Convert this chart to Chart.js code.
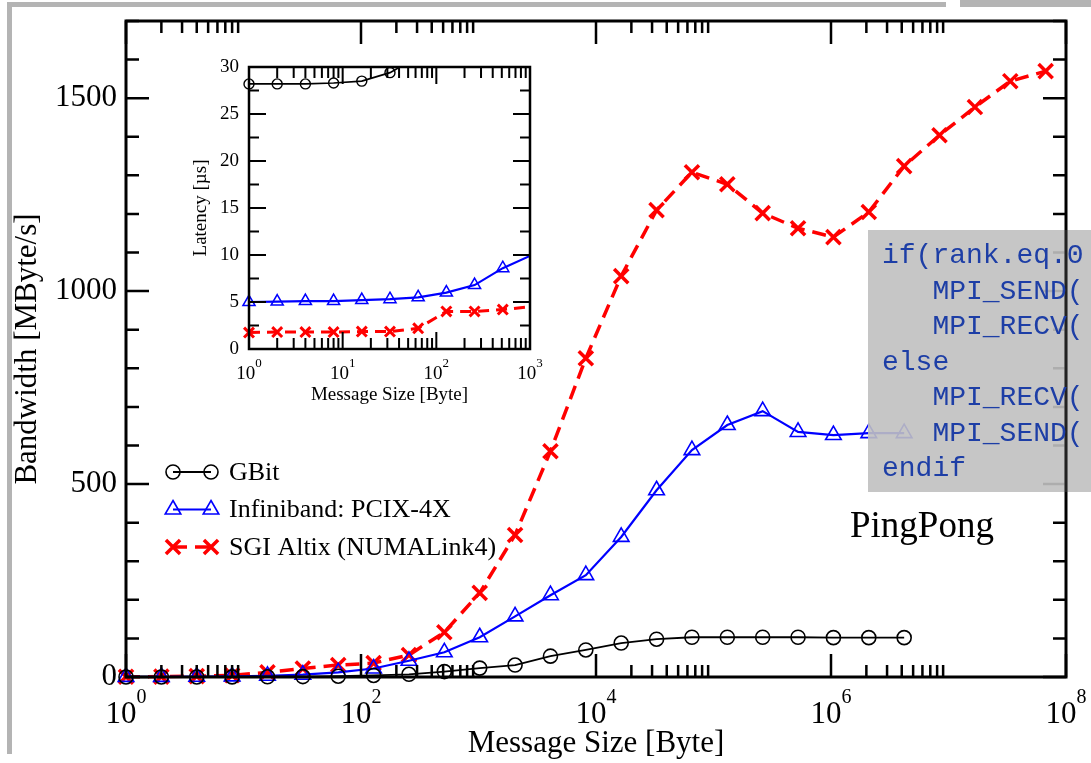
<!DOCTYPE html>
<html lang="en">
<head>
<meta charset="UTF-8">
<title>PingPong</title>
<style>
  body { margin: 0; background: #fff; }
  #wrap { position: relative; width: 1091px; height: 763px; overflow: hidden; }
  #main { position: absolute; left: 0; top: 0; }
  #inset { position: absolute; left: 180px; top: 50px; background: #fff; }
</style>
<script src="https://cdn.jsdelivr.net/npm/chart.js"></script>
</head>
<body>
<div id="wrap">
  <canvas id="main" width="1091" height="763"></canvas>
  <canvas id="inset" width="370" height="360"></canvas>
</div>
<script>
// message sizes [Byte]
const sizes = [1, 2, 4, 8, 16, 32, 64, 128, 256, 512, 1024, 2048, 4096, 8192, 16384, 32768,
  65536, 131072, 262144, 524288, 1048576, 2097152, 4194304, 8388608, 16777216, 33554432, 67108864];

// bandwidth [MByte/s]
const gbitBw = [0.04, 0.07, 0.14, 0.28, 0.6, 1.1, 2, 4, 7, 14, 23, 31, 54, 70, 88, 98,
  103, 103, 103, 103, 102, 102, 102];
const ibBw = [0.2, 0.4, 0.8, 1.6, 3.1, 6, 12, 22, 42, 64, 103, 157, 212, 264, 363, 484,
  588, 653, 689, 635, 627, 632, 632];
const sgiBw = [0.6, 1.1, 2.2, 4.4, 12, 22, 31, 36, 57, 116, 218, 368, 585, 826, 1039, 1210,
  1308, 1277, 1202, 1163, 1140, 1205, 1324, 1404, 1477, 1544, 1570];

// latency [us] (inset)
const latSizes = [1, 2, 4, 8, 16, 32, 64, 128, 256, 512, 1024];
const gbitLat = [28.2, 28.2, 28.2, 28.3, 28.5, 29.4, 31.1, 33];
const ibLat = [5.0, 5.05, 5.1, 5.1, 5.2, 5.3, 5.5, 6.0, 6.8, 8.6, 9.95];
const sgiLat = [1.75, 1.8, 1.8, 1.8, 1.85, 1.85, 2.2, 4.0, 4.0, 4.2, 4.5];

const seriesNames = ['GBit', 'Infiniband: PCIX-4X', 'SGI Altix (NUMALink4)'];
const bwExps = [0, 2, 4, 6, 8];      // labelled x ticks, main
const bwMinorDecades = [0, 2, 4, 6];
const latExps = [0, 1, 2, 3];        // labelled x ticks, inset
const latMinorDecades = [0, 1, 2];
const codeLines = ['if(rank.eq.0', '   MPI_SEND(', '   MPI_RECV(', 'else', '   MPI_RECV(', '   MPI_SEND(', 'endif'];

const SERIF = '"Liberation Serif", "Times New Roman", serif';
const MONO = '"Liberation Mono", "Courier New", monospace';
Chart.defaults.color = '#000';
Chart.defaults.font.family = SERIF;

function points(xs, ys) {
  return ys.map((v, i) => ({ x: xs[i], y: v }));
}

function logTicks(majorExps, minorDecades) {
  const list = [];
  for (const e of majorExps) list.push({ v: Math.pow(10, e), major: true });
  for (const e of minorDecades) {
    for (let m = 2; m <= 9; m++) list.push({ v: m * Math.pow(10, e), major: false });
  }
  return list;
}

// inward ticks on all sides, frame and 10^n labels
function frameAndTicks(chart, o) {
  const { ctx, chartArea: a, scales: { x, y } } = chart;
  ctx.save();
  ctx.strokeStyle = '#000';
  ctx.lineWidth = o.tickWidth;
  ctx.beginPath();
  for (const t of o.xTicks) {
    const px = x.getPixelForValue(t.v);
    const len = t.major ? o.major : o.minorX;
    ctx.moveTo(px, a.bottom); ctx.lineTo(px, a.bottom - len);
    ctx.moveTo(px, a.top); ctx.lineTo(px, a.top + len);
  }
  for (const t of y.ticks) {
    const py = y.getPixelForValue(t.value);
    const len = t.value % o.yMajorStep === 0 ? o.major : o.minorY;
    ctx.moveTo(a.left, py); ctx.lineTo(a.left + len, py);
    ctx.moveTo(a.right, py); ctx.lineTo(a.right - len, py);
  }
  ctx.stroke();
  ctx.lineWidth = o.frameWidth;
  ctx.strokeRect(a.left, a.top, a.width, a.height);

  ctx.fillStyle = '#000';
  ctx.textAlign = 'left';
  ctx.textBaseline = 'alphabetic';
  for (const e of o.labelExps) {
    const px = x.getPixelForValue(Math.pow(10, e));
    ctx.font = o.labelSize + 'px ' + SERIF;
    const w1 = ctx.measureText('10').width;
    ctx.font = o.supSize + 'px ' + SERIF;
    const w2 = ctx.measureText(String(e)).width;
    const x0 = px - (w1 + w2) / 2;
    ctx.font = o.labelSize + 'px ' + SERIF;
    ctx.fillText('10', x0, a.bottom + o.labelDrop);
    ctx.font = o.supSize + 'px ' + SERIF;
    ctx.fillText(String(e), x0 + w1, a.bottom + o.labelDrop - o.supRise);
  }
  ctx.restore();
}

function drawLegend(chart) {
  const { ctx, chartArea: a } = chart;
  const x1 = a.left + 47, x2 = a.left + 85, tx = a.left + 103;
  chart.data.datasets.forEach((ds, i) => {
    const yy = a.top + 451 + i * 37.5;
    ctx.save();
    ctx.strokeStyle = ds.borderColor;
    ctx.lineWidth = ds.borderWidth;
    ctx.setLineDash(ds.borderDash || []);
    ctx.beginPath();
    ctx.moveTo(x1, yy); ctx.lineTo(x2, yy);
    ctx.stroke();
    ctx.setLineDash([]);
    ctx.lineWidth = ds.pointBorderWidth;
    ctx.fillStyle = 'rgba(0,0,0,0)';
    const opts = { pointStyle: ds.pointStyle, radius: ds.pointRadius, rotation: 0, borderWidth: ds.pointBorderWidth };
    Chart.helpers.drawPoint(ctx, opts, x1, yy);
    Chart.helpers.drawPoint(ctx, opts, x2, yy);
    ctx.fillStyle = '#000';
    ctx.font = '26px ' + SERIF;
    ctx.textAlign = 'left';
    ctx.textBaseline = 'middle';
    ctx.fillText(ds.label, tx, yy + 1);
    ctx.restore();
  });
}

const mainDeco = {
  id: 'mainDeco',
  beforeDraw(chart) {
    const ctx = chart.ctx;
    ctx.save();
    ctx.fillStyle = '#b4b4b4';
    ctx.fillRect(8, 2, 938, 5);
    ctx.fillRect(960, 0, 131, 7);
    ctx.fillRect(7, 2, 5, 752);
    ctx.restore();
  },
  afterDatasetsDraw(chart) {
    frameAndTicks(chart, {
      xTicks: logTicks(bwExps, bwMinorDecades), yMajorStep: 500,
      major: 23, minorX: 12, minorY: 13, tickWidth: 2.5, frameWidth: 3,
      labelExps: bwExps, labelSize: 31, supSize: 20, labelDrop: 46, supRise: 20
    });
    drawLegend(chart);
    const { ctx } = chart;
    ctx.save();
    ctx.fillStyle = '#000';
    ctx.font = '37px ' + SERIF;
    ctx.textAlign = 'left';
    ctx.textBaseline = 'alphabetic';
    ctx.fillText('PingPong', 850, 537);
    ctx.restore();
  },
  afterDraw(chart) {
    const { ctx, chartArea: a } = chart;
    ctx.save();
    ctx.fillStyle = 'rgba(192,192,192,0.9)';
    ctx.fillRect(868, 230, chart.width - 868, 262);
    ctx.strokeStyle = '#222';
    ctx.lineWidth = 3;
    ctx.beginPath();
    ctx.moveTo(a.right, 230); ctx.lineTo(a.right, 492);
    ctx.stroke();
    ctx.fillStyle = '#1d3ea6';
    ctx.font = '28px ' + MONO;
    ctx.textAlign = 'left';
    ctx.textBaseline = 'alphabetic';
    codeLines.forEach((s, i) => ctx.fillText(s, 882, 263 + i * 35.5));
    ctx.restore();
  }
};

const insetDeco = {
  id: 'insetDeco',
  afterDatasetsDraw(chart) {
    frameAndTicks(chart, {
      xTicks: logTicks(latExps, latMinorDecades), yMajorStep: 5,
      major: 17, minorX: 11, minorY: 10, tickWidth: 2, frameWidth: 2.5,
      labelExps: latExps, labelSize: 19, supSize: 13, labelDrop: 30, supRise: 12
    });
  }
};

function noPad(s) {
  s.paddingTop = 0; s.paddingBottom = 0; s.paddingLeft = 0; s.paddingRight = 0;
}

new Chart(document.getElementById('main'), {
  type: 'line',
  data: {
    datasets: [
      {
        label: seriesNames[0], data: points(sizes, gbitBw),
        borderColor: '#000000', borderWidth: 1.8, backgroundColor: 'rgba(0,0,0,0)',
        pointStyle: 'circle', pointRadius: 7, pointBorderWidth: 1.6,
        pointBackgroundColor: 'rgba(0,0,0,0)', pointBorderColor: '#000000', clip: false
      },
      {
        label: seriesNames[1], data: points(sizes, ibBw),
        borderColor: '#0000ff', borderWidth: 2.2, backgroundColor: 'rgba(0,0,0,0)',
        pointStyle: 'triangle', pointRadius: 9, pointBorderWidth: 1.6,
        pointBackgroundColor: 'rgba(0,0,0,0)', pointBorderColor: '#0000ff', clip: false
      },
      {
        label: seriesNames[2], data: points(sizes, sgiBw),
        borderColor: '#ff0000', borderWidth: 3.5, borderDash: [14, 8], backgroundColor: 'rgba(0,0,0,0)',
        pointStyle: 'crossRot', pointRadius: 10, pointBorderWidth: 3.5,
        pointBackgroundColor: 'rgba(0,0,0,0)', pointBorderColor: '#ff0000', clip: false
      }
    ]
  },
  options: {
    responsive: false,
    animation: false,
    devicePixelRatio: 1,
    layout: { padding: { left: 0, top: 21, right: 25, bottom: 0 } },
    plugins: { legend: { display: false }, tooltip: { enabled: false } },
    scales: {
      x: {
        type: 'logarithmic', min: 1, max: 1e8,
        grid: { display: false, drawTicks: false }, border: { display: false },
        ticks: { display: false },
        title: { display: true, text: 'Message Size [Byte]', font: { size: 31, family: SERIF }, padding: { top: 0, bottom: 1 } },
        afterFit(s) { s.height = 86; noPad(s); }
      },
      y: {
        min: 0, max: 1700,
        grid: { display: false, drawTicks: false }, border: { display: false },
        ticks: {
          stepSize: 100, autoSkip: false, padding: 9, font: { size: 31, family: SERIF },
          callback: v => (v % 500 === 0 ? String(v) : '')
        },
        title: { display: true, text: 'Bandwidth [MByte/s]', font: { size: 31, family: SERIF }, padding: { top: 9, bottom: 0 } },
        afterFit(s) { s.width = 126; noPad(s); }
      }
    }
  },
  plugins: [mainDeco]
});

// markers outside the inset axis range are not drawn
const insetRadius = r => c => (c.parsed && (c.parsed.x > 1000 || c.parsed.y > 30)) ? 0 : r;

new Chart(document.getElementById('inset'), {
  type: 'line',
  data: {
    datasets: [
      {
        label: seriesNames[0], data: points(latSizes, gbitLat),
        borderColor: '#000000', borderWidth: 1.6, backgroundColor: 'rgba(0,0,0,0)',
        pointStyle: 'circle', pointRadius: insetRadius(5), pointBorderWidth: 1.4,
        pointBackgroundColor: 'rgba(0,0,0,0)', pointBorderColor: '#000000',
        clip: { left: 10, top: 0, right: 0, bottom: 10 }
      },
      {
        label: seriesNames[1], data: points(latSizes, ibLat),
        borderColor: '#0000ff', borderWidth: 2.2, backgroundColor: 'rgba(0,0,0,0)',
        pointStyle: 'triangle', pointRadius: insetRadius(7), pointBorderWidth: 1.5,
        pointBackgroundColor: 'rgba(0,0,0,0)', pointBorderColor: '#0000ff',
        clip: { left: 10, top: 0, right: 0, bottom: 10 }
      },
      {
        label: seriesNames[2], data: points(latSizes, sgiLat),
        borderColor: '#ff0000', borderWidth: 3, borderDash: [11, 7], backgroundColor: 'rgba(0,0,0,0)',
        pointStyle: 'crossRot', pointRadius: insetRadius(7), pointBorderWidth: 3,
        pointBackgroundColor: 'rgba(0,0,0,0)', pointBorderColor: '#ff0000',
        clip: { left: 10, top: 0, right: 0, bottom: 10 }
      }
    ]
  },
  options: {
    responsive: false,
    animation: false,
    devicePixelRatio: 1,
    layout: { padding: { left: 0, top: 17, right: 20, bottom: 0 } },
    plugins: { legend: { display: false }, tooltip: { enabled: false } },
    scales: {
      x: {
        type: 'logarithmic', min: 1, max: 1000,
        grid: { display: false, drawTicks: false }, border: { display: false },
        ticks: { display: false },
        title: { display: true, text: 'Message Size [Byte]', font: { size: 19, family: SERIF }, padding: { top: 0, bottom: 4 } },
        afterFit(s) { s.height = 61; noPad(s); }
      },
      y: {
        min: 0, max: 30,
        grid: { display: false, drawTicks: false }, border: { display: false },
        ticks: {
          stepSize: 2.5, autoSkip: false, padding: 10, font: { size: 19, family: SERIF },
          callback: v => (v % 5 === 0 ? String(v) : '')
        },
        title: { display: true, text: 'Latency [\u00b5s]', font: { size: 19, family: SERIF }, padding: { top: 10, bottom: 0 } },
        afterFit(s) { s.width = 69; noPad(s); }
      }
    }
  },
  plugins: [insetDeco]
});
</script>
</body>
</html>
